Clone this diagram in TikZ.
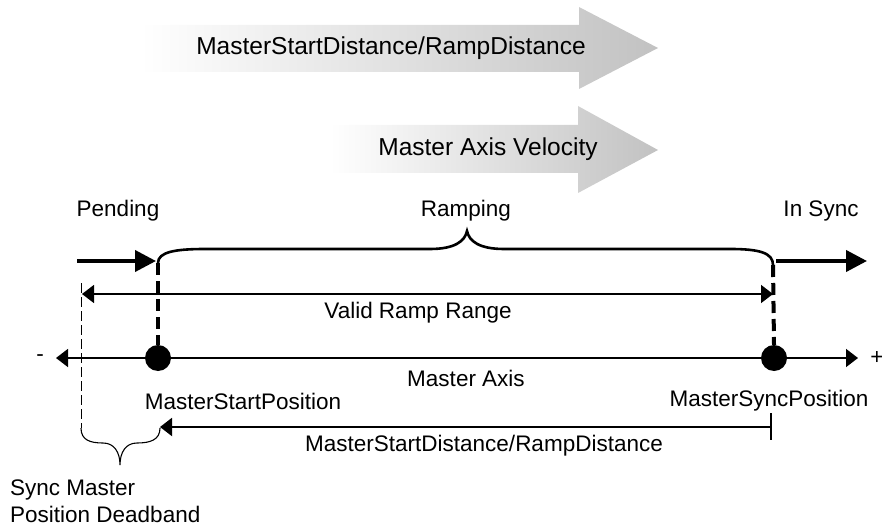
\documentclass[tikz,border=0pt]{standalone}
\usepackage{fontspec}
\setmainfont{Liberation Sans}
\usetikzlibrary{arrows.meta}
\tikzset{tipS/.tip={Triangle[length=12pt,width=18pt]}}
\begin{document}
\begin{tikzpicture}[x=1pt,y=-1pt,
  lbl/.style={inner sep=0pt,font=\fontsize{22.5}{26}\selectfont},
  biglbl/.style={inner sep=0pt,font=\fontsize{24.5}{28}\selectfont},
  bigarrow/.style={left color=white,right color=black!24,draw=none},
  thickarrow/.style={line width=4pt,-{Triangle[length=21pt,width=21pt]}},
  thinarrow/.style={line width=1.6pt},
  dashv/.style={line width=4pt,dash pattern=on 12pt off 6pt},
  dot/.style={circle,fill=black,minimum size=26pt,inner sep=0pt}]
\useasboundingbox (0,0) rectangle (882,529);
% big shaded arrows
\shade[bigarrow] (140,25) -- (579,25) -- (579,7) -- (658,48) -- (579,89) -- (579,72) -- (140,72) -- cycle;
\shade[bigarrow] (330,125) -- (578,125) -- (578,106) -- (658,150) -- (578,193) -- (578,173) -- (330,173) -- cycle;
\node[biglbl] (t1) at (391,48) {MasterStartDistance/RampDistance};
\node[biglbl] (t2) at (488,149) {Master Axis Velocity};
% state labels
\node[lbl] (pend) at (118,211) {Pending};
\node[lbl] (ramp) at (466,211) {Ramping};
\node[lbl] (insync) at (821,211) {In Sync};
% points
\node[dot] (ms) at (158,358) {};
\node[dot] (msy) at (774,358) {};
\coordinate (bl) at (158,263);
\coordinate (br) at (773,265);
% brace
\draw[line width=2.6pt] (bl) .. controls (158,252) and (175,249) .. (205,249) -- (430,249)
  .. controls (455,249) and (465,241) .. (467,231)
  .. controls (469,241) and (479,249) .. (504,249) -- (730,249)
  .. controls (760,249) and (773,253) .. (br);
% pending / in sync arrows
\coordinate (p0) at (77,261);
\coordinate (p1) at (156,261);
\coordinate (s0) at (776,261);
\coordinate (s1) at (867,261);
\draw[thickarrow] (p0) -- (p1);
\draw[thickarrow] (s0) -- (s1);
% dashed verticals
\draw[dashv] (bl) -- (ms.north);
\draw[dashv] (br) -- (msy.north);
% valid ramp range
\coordinate (v0) at (82,294);
\coordinate (v1) at (773,294);
\draw[thinarrow,tipS-tipS] (v0) -- (v1);
\node[lbl] (vrr) at (418,313) {Valid Ramp Range};
% master axis
\coordinate (a0) at (56,358);
\coordinate (a1) at (858,358);
\draw[thinarrow,tipS-tipS] (a0) -- (a1);
\node[lbl] (minus) at (40,358) {-};
\node[lbl] (plus) at (877,358) {+};
\node[lbl] (max) at (466,378) {Master Axis};
\node[lbl] (msp) at (243,401) {MasterStartPosition};
\node[lbl] (msyp) at (769,401) {MasterSyncPosition};
% deadband dashed line
\coordinate (d0) at (81,283);
\coordinate (d1) at (81,428);
\draw[line width=1pt,dash pattern=on 10pt off 4pt] (d0) -- (d1);
% bottom brace
\coordinate (e1) at (160,428);
\draw[line width=1.1pt] (d1) .. controls (81,440) and (90,443) .. (103,443)
  .. controls (114,443) and (120,452) .. (120,465)
  .. controls (120,452) and (126,443) .. (137,443)
  .. controls (150,443) and (160,440) .. (e1);
% bottom distance arrow
\coordinate (b0) at (771,427);
\coordinate (b1) at (160,427);
\draw[line width=2pt,-tipS] (b0) -- (b1);
\coordinate (bt) at (771,413);
\coordinate (bb) at (771,440);
\draw[line width=1.6pt] (bt) -- (bb);
\node[lbl] (msd) at (484,446) {MasterStartDistance/RampDistance};
\node[lbl,anchor=west] (sm1) at (10,490) {Sync Master};
\node[lbl,anchor=west] (sm2) at (10,514) {Position Deadband};
\end{tikzpicture}
\end{document}
